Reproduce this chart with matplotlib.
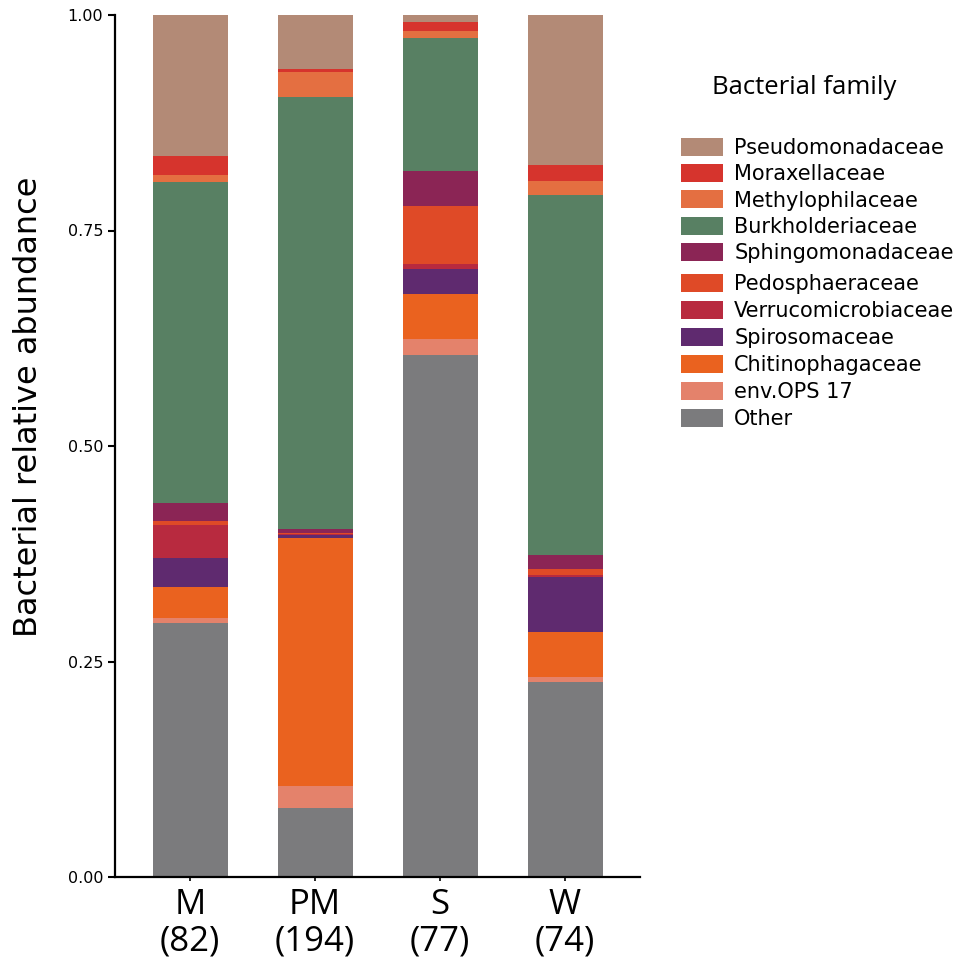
import numpy as np
import matplotlib
matplotlib.use("Agg")
import matplotlib.pyplot as plt
from matplotlib.patches import Patch

groups = ['M\n(82)', 'PM\n(194)', 'S\n(77)', 'W\n(74)']

# stacked bottom -> top
families = ['Other', 'env.OPS 17', 'Chitinophagaceae', 'Spirosomaceae',
            'Verrucomicrobiaceae', 'Pedosphaeraceae', 'Sphingomonadaceae',
            'Burkholderiaceae', 'Methylophilaceae', 'Moraxellaceae',
            'Pseudomonadaceae']
colors = ['#7b7b7d', '#e4826b', '#ea621f', '#5f2a6f', '#b82a3f', '#df4a27',
          '#8b2555', '#588063', '#e46f41', '#d6342d', '#b38a76']

other = [0.295, 0.080, 0.606, 0.226]
env_ops = [0.006, 0.026, 0.018, 0.006]
chitino = [0.036, 0.287, 0.052, 0.052]
spiro = [0.033, 0.0035, 0.029, 0.064]
verruco = [0.038, 0.0012, 0.006, 0.002]
pedo = [0.005, 0.001, 0.067, 0.007]
sphingo = [0.021, 0.0047, 0.041, 0.017]
burk = [0.372, 0.502, 0.154, 0.417]
methylo = [0.008, 0.029, 0.008, 0.016]
moraxe = [0.023, 0.0035, 0.011, 0.019]
pseudo = [0.163, 0.062, 0.008, 0.174]

values = [other, env_ops, chitino, spiro, verruco, pedo, sphingo, burk,
          methylo, moraxe, pseudo]

fig = plt.figure(figsize=(9.68, 9.66), dpi=100)
ax = fig.add_axes([115/968, 89/966, 525/968, 862/966])

x = np.arange(len(groups))
bottom = np.zeros(len(groups))
for vals, c in zip(values, colors):
    ax.bar(x, vals, 0.6, bottom=bottom, color=c, linewidth=0)
    bottom += np.array(vals)

ax.set_xlim(-0.6, 3.6)
ax.set_ylim(0, 1)
ax.set_yticks([0, 0.25, 0.5, 0.75, 1.0])
ax.set_yticklabels(['0.00', '0.25', '0.50', '0.75', '1.00'], fontsize=11.5)
ax.set_xticks(x)
ax.set_xticklabels(groups, fontsize=25, family='Open Sans', linespacing=1.1)
ax.tick_params(axis='y', length=5, width=1.5)
ax.tick_params(axis='x', length=3, width=1.2, pad=5)
for s in ['top', 'right']:
    ax.spines[s].set_visible(False)
for s in ['left', 'bottom']:
    ax.spines[s].set_linewidth(1.6)
ax.set_ylabel('Bacterial relative abundance', fontsize=23,
              family=['Liberation Sans Narrow', 'DejaVu Sans'])
ax.yaxis.set_label_coords(-0.135, 0.545)

fig.text(712/968, 1 - 88/966, 'Bacterial family', fontsize=18.5,
         family='Open Sans', va='center', ha='left')

handles = [Patch(facecolor=c, edgecolor='none', label=f)
           for f, c in zip(families[::-1], colors[::-1])]
leg_kw = dict(loc='upper left', frameon=False, bbox_transform=fig.transFigure,
              borderaxespad=0, borderpad=0, fontsize=15, handlelength=2.0,
              handleheight=0.95, handletextpad=0.55, labelspacing=0.29)
leg1 = ax.legend(handles=handles[:5], bbox_to_anchor=(681/968, 1 - 138/966),
                 **leg_kw)
ax.add_artist(leg1)
ax.legend(handles=handles[5:], bbox_to_anchor=(681/968, 1 - 274/966),
          labelspacing=0.33, **{k: v for k, v in leg_kw.items() if k != 'labelspacing'})

fig.savefig('out.png', dpi=100)
